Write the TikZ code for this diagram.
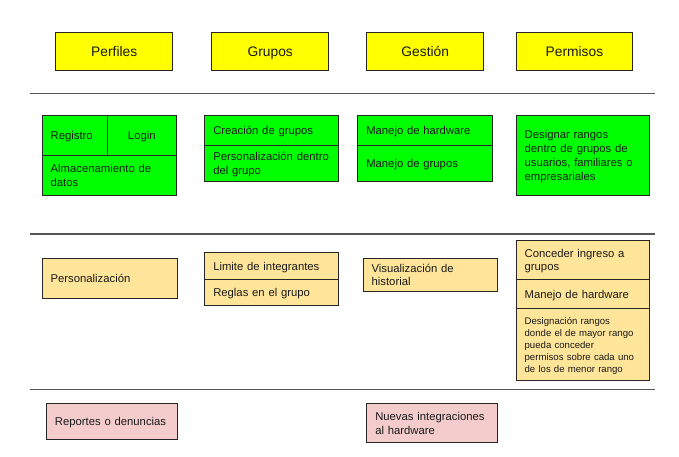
\documentclass[tikz,border=0pt]{standalone}
\usepackage{fontspec}
\setmainfont{Liberation Sans}
\definecolor{hdr}{HTML}{FFFF00}
\definecolor{grn}{HTML}{00FF00}
\definecolor{org}{HTML}{FFE599}
\definecolor{pnk}{HTML}{F4CCCC}
\definecolor{txt}{HTML}{1A1A1A}
\definecolor{sep}{HTML}{555555}
\newcommand\mystrut{\rule[-0.2\baselineskip]{0pt}{\baselineskip}}
\newcommand\mycell[7]{%
  \pgfmathsetmacro\cw{#4-#2}\pgfmathsetmacro\ch{#5-#3}\pgfmathsetmacro\tw{#4-#2-17}%
  \node[cell,#6,minimum width=\cw pt,minimum height=\ch pt,text width=\tw pt] (#1) at (#2,#3) {\mystrut#7\mystrut};}
\begin{document}
\begin{tikzpicture}[x=1pt,y=-1pt,
  cell/.style={draw=black!85,line width=0.9pt,anchor=north west,inner xsep=8.5pt,inner ysep=0pt,
    align=left,text=txt,font=\fontsize{11.3}{13.5}\selectfont},
  head/.style={fill=hdr,align=center,font=\fontsize{13.8}{16}\selectfont},
  small/.style={font=\fontsize{9.6}{12}\selectfont,inner xsep=7.5pt},
  wide/.style={font=\fontsize{11.3}{14}\selectfont},
  sepline/.style={draw=sep,line width=1.1pt}]
\useasboundingbox (0,0) rectangle (679,456);
% headers
\mycell{h1}{55.3}{31.7}{172.3}{70}{head}{Perfiles}
\mycell{h2}{211.3}{31.7}{328.3}{70}{head}{Grupos}
\mycell{h3}{366.3}{31.7}{483.3}{70}{head}{Gestión}
\mycell{h4}{515.7}{31.7}{632.3}{70}{head}{Permisos}
% separators
\coordinate (l1a) at (30,93.5); \coordinate (l1b) at (655,93.5);
\coordinate (l2a) at (30,234); \coordinate (l2b) at (655,234);
\coordinate (l3a) at (30,389.5); \coordinate (l3b) at (655,389.5);
\draw[sepline] (l1a) -- (l1b);
\draw[sepline] (l2a) -- (l2b);
\draw[sepline] (l3a) -- (l3b);
% row 1
\mycell{a1}{41.7}{115.3}{106.7}{155}{fill=grn}{Registro}
\mycell{a2}{106.7}{115.3}{176}{155}{fill=grn,align=center}{Login}
\mycell{a3}{41.7}{155}{176}{195.3}{fill=grn}{Almacenamiento de\\datos}
\mycell{b1}{204.3}{115.3}{338}{145}{fill=grn}{Creación de grupos}
\mycell{b2}{204.3}{145}{338}{181}{fill=grn}{Personalización dentro\\del grupo}
\mycell{c1}{357.3}{115.3}{492.3}{145}{fill=grn}{Manejo de hardware}
\mycell{c2}{357.3}{145}{492.3}{181}{fill=grn}{Manejo de grupos}
\mycell{d1}{515.7}{115.3}{649.3}{195.3}{fill=grn,wide}{Designar rangos\\dentro de grupos de\\usuarios, familiares o\\empresariales}
% row 2
\mycell{e1}{41.7}{258.3}{176.7}{298.3}{fill=org}{Personalización}
\mycell{f1}{204.3}{251.7}{338.3}{279.3}{fill=org}{Limite de integrantes}
\mycell{f2}{204.3}{279.3}{338.3}{305}{fill=org}{Reglas en el grupo}
\mycell{g1}{362.7}{258.3}{496.7}{290.7}{fill=org}{Visualización de\\historial}
\mycell{k1}{515.7}{240}{649.3}{279.3}{fill=org}{Conceder ingreso a\\grupos}
\mycell{k2}{515.7}{279.3}{649.3}{308.3}{fill=org}{Manejo de hardware}
\mycell{k3}{515.7}{308.3}{649.3}{380}{fill=org,small}{Designación rangos\\donde el de mayor rango\\pueda conceder\\permisos sobre cada uno\\de los de menor rango}
% row 3
\mycell{m1}{46}{403.3}{176.7}{439.3}{fill=pnk}{Reportes o denuncias}
\mycell{n1}{366.3}{403.3}{496.7}{442.3}{fill=pnk}{Nuevas integraciones\\al hardware}
\end{tikzpicture}
\end{document}
